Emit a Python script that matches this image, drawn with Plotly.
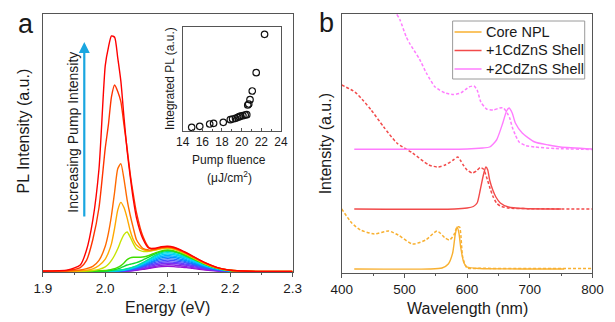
import plotly.graph_objects as go

W, H = 615, 322
FONT = "Liberation Sans, Arial, sans-serif"

# ---------------- Panel a: PL spectra ----------------
energy = [1.90, 1.94, 1.96, 1.97, 1.98, 1.99, 2.00, 2.005, 2.01, 2.015, 2.02, 2.025, 2.03, 2.035,
          2.04, 2.045, 2.05, 2.06, 2.07, 2.08, 2.09, 2.10, 2.11, 2.12, 2.13, 2.14, 2.16, 2.18,
          2.20, 2.23, 2.26, 2.30]
pl_red1 = [0.004, 0.008, 0.027, 0.085, 0.20, 0.40, 0.80, 0.87, 0.915, 0.91, 0.83, 0.74, 0.60, 0.47,
           0.37, 0.28, 0.21, 0.13, 0.092, 0.092, 0.098, 0.100, 0.096, 0.087, 0.075, 0.062, 0.036,
           0.017, 0.007, 0.003, 0.002, 0.002]
pl_red2 = [0.003, 0.006, 0.017, 0.045, 0.125, 0.25, 0.48, 0.57, 0.68, 0.725, 0.70, 0.66, 0.57, 0.48,
           0.38, 0.30, 0.23, 0.14, 0.095, 0.09, 0.096, 0.098, 0.094, 0.085, 0.073, 0.06, 0.035,
           0.016, 0.007, 0.003, 0.002, 0.002]
pl_orange = [0.002, 0.004, 0.008, 0.013, 0.022, 0.045, 0.10, 0.15, 0.22, 0.31, 0.40, 0.42, 0.36, 0.28,
             0.22, 0.17, 0.125, 0.092, 0.085, 0.088, 0.094, 0.096, 0.092, 0.083, 0.072, 0.059, 0.034,
             0.016, 0.007, 0.003, 0.002, 0.002]
pl_amber = [0.002, 0.003, 0.005, 0.007, 0.012, 0.025, 0.05, 0.075, 0.11, 0.17, 0.24, 0.27, 0.25, 0.21,
            0.16, 0.125, 0.105, 0.088, 0.082, 0.086, 0.092, 0.094, 0.09, 0.081, 0.07, 0.058, 0.033,
            0.015, 0.007, 0.003, 0.002, 0.002]
pl_lime = [0.002, 0.002, 0.003, 0.004, 0.006, 0.01, 0.02, 0.03, 0.045, 0.065, 0.09, 0.12, 0.145, 0.155,
           0.135, 0.11, 0.09, 0.08, 0.08, 0.085, 0.09, 0.092, 0.088, 0.079, 0.068, 0.056, 0.032,
           0.015, 0.006, 0.003, 0.002, 0.002]
pl_green1 = [0.001, 0.002, 0.002, 0.003, 0.004, 0.005, 0.006, 0.008, 0.01, 0.013, 0.018, 0.025, 0.035,
             0.048, 0.055, 0.057, 0.057, 0.058, 0.064, 0.074, 0.082, 0.085, 0.082, 0.074, 0.064, 0.053,
             0.031, 0.014, 0.006, 0.002, 0.001, 0.001]
pl_green2 = [0.001, 0.002, 0.002, 0.002, 0.003, 0.003, 0.004, 0.005, 0.007, 0.009, 0.012, 0.016, 0.022,
             0.027, 0.03, 0.033, 0.036, 0.046, 0.058, 0.07, 0.079, 0.083, 0.08, 0.072, 0.062, 0.051,
             0.03, 0.014, 0.006, 0.002, 0.001, 0.001]
lasing_series = [pl_green2, pl_green1, pl_lime, pl_amber, pl_orange, pl_red2, pl_red1]
lasing_colors = ["#10DD30", "#40DD00", "#C6E400", "#FFA800", "#FF6A00", "#FF3300", "#FF0000"]

energy_low = [1.90, 1.96, 2.00, 2.03, 2.05, 2.06, 2.07, 2.08, 2.09, 2.10, 2.11, 2.12, 2.13, 2.14,
              2.16, 2.18, 2.20, 2.23, 2.30]
pl_low = [
    [0, 0, 0.001, 0.003, 0.007, 0.010, 0.014, 0.018, 0.021, 0.022, 0.021, 0.019, 0.017, 0.014, 0.008, 0.004, 0.002, 0, 0],
    [0, 0, 0.001, 0.003, 0.008, 0.013, 0.017, 0.022, 0.026, 0.028, 0.027, 0.024, 0.021, 0.017, 0.010, 0.005, 0.002, 0.001, 0],
    [0, 0, 0.001, 0.004, 0.010, 0.015, 0.021, 0.027, 0.032, 0.034, 0.033, 0.030, 0.026, 0.021, 0.012, 0.006, 0.002, 0.001, 0],
    [0, 0, 0.002, 0.005, 0.012, 0.018, 0.025, 0.032, 0.038, 0.040, 0.038, 0.035, 0.030, 0.025, 0.014, 0.007, 0.003, 0.001, 0],
    [0, 0, 0.002, 0.006, 0.014, 0.021, 0.029, 0.037, 0.043, 0.046, 0.044, 0.040, 0.035, 0.029, 0.017, 0.008, 0.003, 0.001, 0],
    [0, 0.001, 0.002, 0.006, 0.016, 0.023, 0.032, 0.042, 0.049, 0.052, 0.050, 0.045, 0.039, 0.032, 0.019, 0.009, 0.004, 0.001, 0],
    [0, 0.001, 0.002, 0.007, 0.017, 0.026, 0.036, 0.046, 0.055, 0.058, 0.056, 0.050, 0.044, 0.036, 0.021, 0.010, 0.004, 0.001, 0],
    [0, 0.001, 0.003, 0.008, 0.019, 0.029, 0.040, 0.051, 0.060, 0.064, 0.061, 0.056, 0.048, 0.040, 0.023, 0.011, 0.004, 0.001, 0],
    [0, 0.001, 0.003, 0.008, 0.021, 0.032, 0.043, 0.056, 0.066, 0.070, 0.067, 0.061, 0.053, 0.043, 0.025, 0.012, 0.005, 0.001, 0],
    [0, 0.001, 0.003, 0.009, 0.023, 0.034, 0.047, 0.060, 0.071, 0.075, 0.072, 0.065, 0.056, 0.047, 0.027, 0.013, 0.005, 0.002, 0],
    [0, 0.001, 0.003, 0.010, 0.024, 0.036, 0.050, 0.064, 0.075, 0.080, 0.077, 0.070, 0.060, 0.050, 0.029, 0.014, 0.006, 0.002, 0],
]
low_colors = ["#9A10D0", "#8C20E0", "#7A30F0", "#6040FF", "#4050FF", "#2070FF",
              "#0090FF", "#00B0FF", "#00CCFF", "#00E0E0", "#00E0A0"]

# ---------------- Inset: integrated PL ----------------
fluence = [14.92, 15.74, 16.75, 17.15, 18.13, 18.85, 19.08, 19.38, 19.61, 19.77, 19.90, 20.13,
           20.36, 20.52, 20.62, 20.72, 20.85, 21.08, 21.48, 22.33]
integrated_pl = [11, 14, 21, 23, 26, 34, 36, 38, 41, 43, 45, 46, 48, 49, 78, 81, 94, 120, 175, 290]

# ---------------- Panel b: absorption / PL ----------------
core_pl_wl = [420, 540, 560, 570, 577, 581, 584, 587, 590, 595, 600, 620, 700, 755]
core_pl = [4, 4, 5, 9, 20, 38, 46, 40, 25, 10, 6, 4.5, 4, 4]
core_abs_wl = [400, 416, 430, 452, 475, 490, 513, 534, 552, 565, 572, 579, 584, 588, 593, 600, 620, 700, 800]
core_abs = [64, 50, 43, 39, 42, 38, 29, 33, 42, 35, 33, 38, 46, 46, 16, 5, 4.7, 4.5, 4.5]

shell1_pl_wl = [420, 580, 600, 610, 616, 621, 626, 630, 633, 636, 641, 646, 653, 666, 690, 750]
shell1_pl = [64, 64, 65, 66.5, 70, 83, 98, 106, 103, 93, 83, 76, 70, 66, 64.5, 64]
shell1_abs_wl = [400, 421, 435, 447, 467, 488, 513, 539, 554, 565, 578, 585, 590, 595, 600, 608, 615,
                 621, 626, 631, 636, 641, 647, 653, 665, 700, 800]
shell1_abs = [188, 181, 172, 163, 146, 130, 120, 108, 106, 108, 113, 116, 112, 107, 103, 100, 102,
              105.5, 104, 96, 86, 77, 70, 67, 65, 64.3, 64]

shell2_pl_wl = [420, 600, 625, 636, 647, 657, 663, 667, 672, 677, 688, 708, 730, 749, 800]
shell2_pl = [123.7, 124, 125, 126, 133, 150, 162, 165, 160, 150, 140, 131, 128, 126, 124]
shell2_abs_wl = [484, 487, 493, 503, 508, 516, 524, 535, 549, 565, 578, 590, 603, 611, 616, 622, 631,
                 642, 652, 658, 664, 668, 672, 677, 683, 693, 708, 740, 800]
shell2_abs = [268, 260, 253, 236, 230, 222, 214, 200, 186, 180, 178.5, 180, 186, 187, 183, 171, 164,
              163, 165, 165, 160, 155, 146, 138, 131, 127.5, 126, 124.5, 123.5]

sample_names = ["Core NPL", "+1CdZnS Shell", "+2CdZnS Shell"]
sample_colors = ["#F8B030", "#F24A4A", "#FF7CFF"]
pl_b = [(core_pl_wl, core_pl), (shell1_pl_wl, shell1_pl), (shell2_pl_wl, shell2_pl)]
abs_b = [(core_abs_wl, core_abs), (shell1_abs_wl, shell1_abs), (shell2_abs_wl, shell2_abs)]

fig = go.Figure()

for ys, c in zip(pl_low, low_colors):
    fig.add_trace(go.Scatter(x=energy_low, y=ys, mode="lines", showlegend=False,
                             line=dict(color=c, width=1.4, shape="spline", smoothing=0.8),
                             xaxis="x", yaxis="y", hoverinfo="skip"))
for ys, c in zip(lasing_series, lasing_colors):
    fig.add_trace(go.Scatter(x=energy, y=ys, mode="lines", showlegend=False,
                             line=dict(color=c, width=1.4, shape="spline", smoothing=0.6),
                             xaxis="x", yaxis="y", hoverinfo="skip"))

fig.add_trace(go.Scatter(x=fluence, y=integrated_pl, mode="markers", showlegend=False,
                         marker=dict(symbol="circle-open", size=6.5, color="#111",
                                     line=dict(width=1.2, color="#111")),
                         xaxis="x2", yaxis="y2"))

for name, col, (pwl, pv), (awl, av) in zip(sample_names, sample_colors, pl_b, abs_b):
    fig.add_trace(go.Scatter(x=awl, y=av, mode="lines", showlegend=False,
                             line=dict(color=col, width=1.5, dash="3px,2px", shape="spline", smoothing=0.6),
                             xaxis="x3", yaxis="y3"))
    fig.add_trace(go.Scatter(x=pwl, y=pv, mode="lines", name=name, showlegend=False,
                             line=dict(color=col, width=1.4, shape="spline", smoothing=0.6),
                             xaxis="x3", yaxis="y3"))

AX = "#555"
frame = dict(showline=True, linecolor=AX, linewidth=1, mirror=True, showgrid=False, zeroline=False)

def px_x(p):
    return p / W

def px_y(p):
    return 1 - p / H

fig.update_layout(
    width=W, height=H, margin=dict(l=0, r=0, t=0, b=0),
    paper_bgcolor="white", plot_bgcolor="white", showlegend=False,
    font=dict(family=FONT, color="#1a1a1a", size=13),
    xaxis=dict(domain=[px_x(33), px_x(292)], range=[1.9, 2.3], dtick=0.1, tickformat=".1f",
               ticks="outside", ticklen=4, tickcolor=AX, tickfont=dict(size=13.5),
               minor=dict(dtick=0.05, ticks="outside", ticklen=2, tickcolor=AX), **frame),
    yaxis=dict(domain=[px_y(272), px_y(14)], range=[0, 1.0], showticklabels=False, ticks="", **frame),
    xaxis2=dict(domain=[px_x(178), px_x(280)], range=[14, 24], dtick=2, anchor="y2",
                ticks="inside", ticklen=3, tickcolor=AX, tickfont=dict(size=12),
                minor=dict(dtick=1, ticks="inside", ticklen=2, tickcolor=AX), **frame),
    yaxis2=dict(domain=[px_y(131), px_y(27)], range=[0, 312], anchor="x2",
                showticklabels=False, ticks="", **frame),
    xaxis3=dict(domain=[px_x(343), px_x(603)], range=[400, 800], dtick=100, anchor="y3",
                ticks="outside", ticklen=4, tickcolor=AX, tickfont=dict(size=13.5),
                minor=dict(dtick=50, ticks="outside", ticklen=2, tickcolor=AX), **frame),
    yaxis3=dict(domain=[px_y(273), px_y(13.5)], range=[0, 259.5], anchor="x3",
                showticklabels=False, ticks="", **frame),
)

def note(text, x, y, size, angle=0, xanchor="center", **kw):
    fig.add_annotation(text=text, x=px_x(x), y=px_y(y), xref="paper", yref="paper",
                       showarrow=False, textangle=angle, font=dict(size=size),
                       xanchor=xanchor, yanchor="middle", **kw)

# legend box for panel b
fig.add_shape(type="rect", xref="paper", yref="paper", x0=px_x(458), x1=px_x(595),
              y0=px_y(79), y1=px_y(21), line=dict(color="#9a9a9a", width=1), fillcolor="white",
              layer="above")
for i, (name, col) in enumerate(zip(sample_names, sample_colors)):
    yy = 32 + i * 18.5
    fig.add_shape(type="line", xref="paper", yref="paper", x0=px_x(460), x1=px_x(488),
                  y0=px_y(yy), y1=px_y(yy), line=dict(color=col, width=1.5), layer="above")
    note(name, 491, yy, 14.5, xanchor="left")

note("a", 16, 24, 27)
note("b", 327, 23, 27)
note("PL Intensity (a.u.)", 13, 131, 16, -90)
note("Energy (eV)", 162, 307, 16)
note("Intensity (a.u.)", 326, 144, 16, -90)
note("Wavelength (nm)", 473, 308, 16)
note("Increasing Pump Intensity", 64, 132, 14, -90)
note("Integrated PL (a.u.)", 165, 79, 12, -90)
note("Pump fluence", 226, 160, 12)
note("(μJ/cm<sup>2</sup>)", 227, 177, 12)

fig.add_annotation(x=px_x(76), y=px_y(42), xref="paper", yref="paper", ax=0, ay=176,
                   axref="pixel", ayref="pixel", text="", showarrow=True,
                   arrowhead=2, arrowsize=1, arrowwidth=2.2, arrowcolor="#1AA6E0", standoff=0)

fig.write_html(
    "out.html",
    config={"responsive": False, "displayModeBar": False},
    post_script="document.documentElement.style.margin='0';document.documentElement.style.overflow='hidden';"
                "document.body.style.margin='0';document.body.style.padding='0';document.body.style.overflow='hidden';",
)
